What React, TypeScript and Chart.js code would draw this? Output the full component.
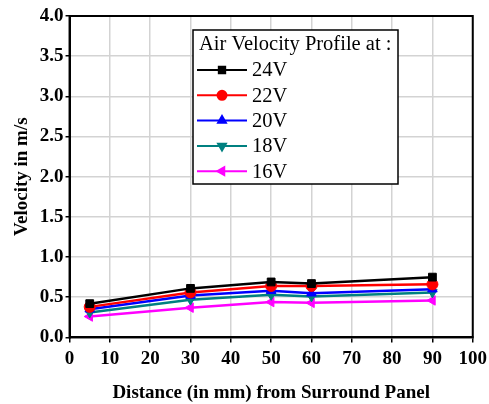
import React, { useEffect, useRef } from "react";
import { Chart, registerables } from "chart.js";
import { drawPoint } from "chart.js/helpers";

Chart.register(...registerables);

const distances = [5, 30, 50, 60, 90];
const seriesLabels = ["24V", "22V", "20V", "18V", "16V"];
const v24 = [0.42, 0.61, 0.69, 0.67, 0.75];
const v22 = [0.38, 0.56, 0.64, 0.64, 0.66];
const v20 = [0.35, 0.52, 0.58, 0.55, 0.6];
const v18 = [0.31, 0.47, 0.53, 0.51, 0.56];
const v16 = [0.26, 0.37, 0.44, 0.43, 0.46];
const seriesColors = ["#000000", "#ff0000", "#0000ff", "#008080", "#ff00ff"];
const pointStyles = ["rect", "circle", "triangle", "triangle", "triangle"];
const pointRotations = [0, 0, 0, 180, -90];
const legendTitle = "Air Velocity Profile at :";
const xTitle = "Distance (in mm) from Surround Panel";
const yTitle = "Velocity in m/s";

const FONT = "'Liberation Serif', 'Times New Roman', serif";

const framePlugin = {
  id: "frame",
  afterDraw(chart: any) {
    const { ctx, chartArea } = chart;
    ctx.save();
    ctx.strokeStyle = "#000";
    ctx.lineWidth = 2;
    ctx.strokeRect(chartArea.left, chartArea.top, chartArea.right - chartArea.left, chartArea.bottom - chartArea.top);
    ctx.restore();
  },
};

const legendPlugin = {
  id: "customLegend",
  afterDatasetsDraw(chart: any) {
    const { ctx } = chart;
    const x = 193, y = 30, w = 205, h = 154;
    ctx.save();
    ctx.fillStyle = "#fff";
    ctx.fillRect(x, y, w, h);
    ctx.strokeStyle = "#000";
    ctx.lineWidth = 1.5;
    ctx.strokeRect(x, y, w, h);
    ctx.fillStyle = "#000";
    ctx.font = `20.5px ${FONT}`;
    ctx.textBaseline = "middle";
    ctx.textAlign = "left";
    ctx.fillText(legendTitle, 199, 45);
    chart.data.datasets.forEach((ds: any, i: number) => {
      const cy = 70 + i * 25.3;
      ctx.strokeStyle = ds.borderColor;
      ctx.lineWidth = 2;
      ctx.beginPath();
      ctx.moveTo(197, cy);
      ctx.lineTo(247, cy);
      ctx.stroke();
      ctx.fillStyle = ds.borderColor;
      ctx.strokeStyle = ds.borderColor;
      drawPoint(ctx, { pointStyle: ds.pointStyle, rotation: ds.pointRotation, radius: 4.5, borderWidth: 1 }, 222, cy);
      ctx.fillStyle = "#000";
      ctx.fillText(ds.label, 252, cy + 1);
    });
    ctx.restore();
  },
};

export default function App() {
  const ref = useRef<HTMLCanvasElement>(null);
  useEffect(() => {
    const allValues = [v24, v22, v20, v18, v16];
    const chart = new Chart(ref.current!, {
      type: "line",
      data: {
        datasets: allValues.map((vals, i) => ({
          label: seriesLabels[i],
          data: distances.map((d, j) => ({ x: d, y: vals[j] })),
          borderColor: seriesColors[i],
          backgroundColor: seriesColors[i],
          borderWidth: 2.5,
          pointStyle: pointStyles[i] as any,
          pointRotation: pointRotations[i],
          pointRadius: 5.5,
          pointBorderWidth: 1,
          tension: 0,
        })),
      },
      options: {
        responsive: false,
        animation: false,
        layout: { padding: { left: 11, right: 0, top: 16, bottom: 0 } },
        plugins: { legend: { display: false }, tooltip: { enabled: false } },
        scales: {
          x: {
            type: "linear",
            min: 0,
            max: 100,
            ticks: { stepSize: 10, color: "#000", font: { family: FONT, size: 19, weight: "bold" }, padding: 5, maxRotation: 0 },
            grid: { color: "#d3d3d3", lineWidth: 1.5, tickLength: 5, tickColor: "#000" },
            border: { color: "#000", width: 2 },
            title: { display: true, text: xTitle, color: "#000", font: { family: FONT, size: 19, weight: "bold" }, padding: { top: 6, bottom: 0 } },
          },
          y: {
            min: 0,
            max: 4,
            ticks: { stepSize: 0.5, color: "#000", font: { family: FONT, size: 19, weight: "bold" }, padding: 2, callback: (v: any) => Number(v).toFixed(1) },
            grid: { color: "#d3d3d3", lineWidth: 1.5, tickLength: 4, tickColor: "#000" },
            border: { color: "#000", width: 2 },
            title: { display: true, text: yTitle, color: "#000", font: { family: FONT, size: 19, weight: "bold" }, padding: { top: 0, bottom: 4 } },
          },
        },
      },
      plugins: [framePlugin, legendPlugin],
    });
    return () => chart.destroy();
  }, []);
  return (
    <div style={{ position: "fixed", left: 0, top: 0, width: 489, height: 404, overflow: "hidden", background: "#fff" }}>
      <canvas ref={ref} width={492} height={404} />
    </div>
  );
}
